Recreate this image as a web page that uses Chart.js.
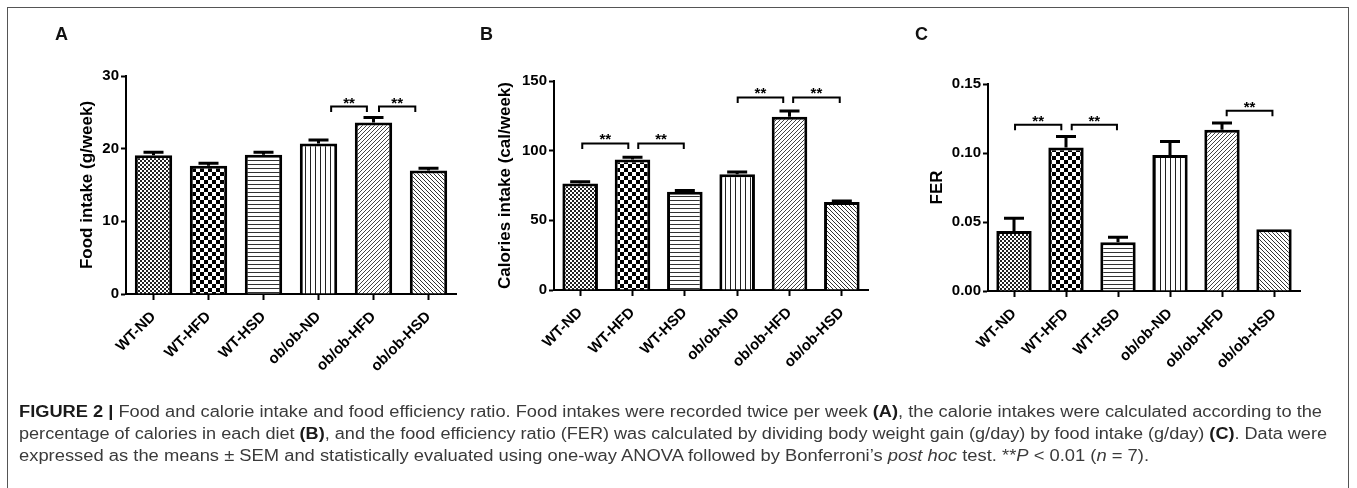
<!DOCTYPE html>
<html><head><meta charset="utf-8">
<script src="https://cdn.jsdelivr.net/npm/chart.js@4.4.1/dist/chart.umd.min.js"></script>
<style>
html,body{margin:0;padding:0;background:#fff;width:1357px;height:488px;overflow:hidden;position:relative;}
#frame{position:absolute;left:7px;top:7px;width:1342px;height:520px;border:1px solid #555;box-sizing:border-box;}
canvas{position:absolute;left:0;top:0;}
.letter{position:absolute;font:bold 18px "Liberation Sans",Arial,sans-serif;color:#111;line-height:18px;}
.cap{position:absolute;left:19px;white-space:nowrap;font:16px "Liberation Sans",Arial,sans-serif;color:#3a3a3a;transform-origin:0 0;line-height:16px;}
.cap b{color:#1a1a1a}
</style></head><body>
<div id="frame"></div>
<canvas id="cA" width="1357" height="488"></canvas>
<canvas id="cB" width="1357" height="488"></canvas>
<canvas id="cC" width="1357" height="488"></canvas>
<div class="letter" style="left:55px;top:25px">A</div>
<div class="letter" style="left:480px;top:25px">B</div>
<div class="letter" style="left:915px;top:25px">C</div>
<div class="cap" id="l1" style="top:404px"><b>FIGURE 2 |</b> Food and calorie intake and food efficiency ratio. Food intakes were recorded twice per week <b>(A)</b>, the calorie intakes were calculated according to the</div>
<div class="cap" id="l2" style="top:426px">percentage of calories in each diet <b>(B)</b>, and the food efficiency ratio (FER) was calculated by dividing body weight gain (g/day) by food intake (g/day) <b>(C)</b>. Data were</div>
<div class="cap" id="l3" style="top:448px">expressed as the means ± SEM and statistically evaluated using one-way ANOVA followed by Bonferroni’s <i>post hoc</i> test. **<i>P</i> &lt; 0.01 (<i>n</i> = 7).</div>
<script>
// ---- data ----
const categories = ['WT-ND', 'WT-HFD', 'WT-HSD', 'ob/ob-ND', 'ob/ob-HFD', 'ob/ob-HSD'];

const foodIntake    = [19.1, 17.65, 19.15, 20.7, 23.6, 17.0];
const foodIntakeSEM = [0.4, 0.35, 0.35, 0.5, 0.7, 0.3];

const calorieIntake    = [76.5, 93.7, 70.5, 83.0, 124.3, 63.1];
const calorieIntakeSEM = [1.2, 1.5, 1.0, 1.6, 4.1, 0.7];

const fer    = [0.0435, 0.104, 0.0353, 0.0985, 0.1168, 0.0448];
const ferSEM = [0.0092, 0.008, 0.0037, 0.0098, 0.0049, 0];

const yTicksA = [0, 10, 20, 30];
const yTicksB = [0, 50, 100, 150];
const yTicksC = [0, 0.05, 0.10, 0.15];
const yLabelsA = ['0', '10', '20', '30'];
const yLabelsB = ['0', '50', '100', '150'];
const yLabelsC = ['0.00', '0.05', '0.10', '0.15'];

// significance brackets: [from category index, to category index, level]
const sigA = [[3.23, 3.88, 25.8], [4.1, 4.76, 25.8]];
const sigB = [[0.04, 0.92, 105.2], [1.11, 1.98, 105.2], [3.01, 3.88, 138.2], [4.07, 4.96, 138.2]];
const sigC = [[0.02, 0.91, 0.1205], [1.11, 1.98, 0.1205], [4.09, 4.97, 0.1306]];

// ---- styling ----
const FONT = '"Liberation Sans", Arial, sans-serif';
Chart.defaults.font.family = FONT;
Chart.defaults.color = '#000';

function tile(w, h, color, draw) {
  const c = document.createElement('canvas');
  c.width = w; c.height = h;
  const g = c.getContext('2d');
  g.fillStyle = '#fff'; g.fillRect(0, 0, w, h);
  g.fillStyle = color;
  draw(g);
  return g.createPattern(c, 'repeat');
}
const patterns = [
  tile(4, 4, '#222', g => { g.fillRect(0, 0, 2, 2); g.fillRect(2, 2, 2, 2); }),
  tile(8, 8, '#000', g => { g.fillRect(0, 0, 4, 4); g.fillRect(4, 4, 4, 4); }),
  tile(1, 4, '#333', g => { g.fillRect(0, 0, 1, 1); }),
  tile(5, 1, '#222', g => { g.fillRect(0, 0, 1, 1); }),
  tile(4, 4, '#444', g => { for (let i = 0; i < 4; i++) g.fillRect(i, 3 - i, 1, 1); }),
  tile(4, 4, '#333', g => { for (let i = 0; i < 4; i++) g.fillRect(i, i, 1, 1); })
];

const errPlugin = {
  id: 'errBars',
  afterDatasetsDraw(chart, args, opts) {
    const { ctx, scales: { y } } = chart;
    const meta = chart.getDatasetMeta(0);
    const vals = chart.data.datasets[0].data;
    ctx.save();
    ctx.strokeStyle = '#000';
    ctx.lineWidth = 3;
    meta.data.forEach((el, i) => {
      const e = opts.errs[i];
      if (!e) return;
      const top = y.getPixelForValue(vals[i] + e);
      ctx.beginPath();
      ctx.moveTo(el.x, el.y);
      ctx.lineTo(el.x, top);
      ctx.moveTo(el.x - 10, top);
      ctx.lineTo(el.x + 10, top);
      ctx.stroke();
    });
    ctx.restore();
  }
};

const sigPlugin = {
  id: 'sigBars',
  afterDraw(chart, args, opts) {
    const { ctx, scales: { x, y } } = chart;
    ctx.save();
    ctx.strokeStyle = '#000';
    ctx.fillStyle = '#000';
    ctx.lineWidth = 2;
    ctx.font = 'bold 15px ' + FONT;
    ctx.textAlign = 'center';
    ctx.textBaseline = 'alphabetic';
    opts.sig.forEach(([a, b, v]) => {
      const xa = x.getPixelForValue(a), xb = x.getPixelForValue(b), yy = y.getPixelForValue(v);
      ctx.beginPath();
      ctx.moveTo(xa, yy + 5.5);
      ctx.lineTo(xa, yy);
      ctx.lineTo(xb, yy);
      ctx.lineTo(xb, yy + 5.5);
      ctx.stroke();
      ctx.fillText('**', (xa + xb) / 2, yy + 1);
    });
    ctx.restore();
  }
};

const XH = 80;
function panel(id, values, errs, yMax, yTicks, yLabels, yTitle, sig, area, titleX) {
  const titleFont = 17;
  const scaleLeft = titleX - (titleFont * 1.2 / 2 + 4);
  const W = area.left - scaleLeft;
  return new Chart(document.getElementById(id), {
    type: 'bar',
    data: {
      labels: categories,
      datasets: [{
        data: values,
        backgroundColor: patterns,
        borderColor: '#000',
        borderWidth: 3,
        borderSkipped: 'start',
        barPercentage: 0.68,
        categoryPercentage: 1
      }]
    },
    options: {
      responsive: false,
      animation: false,
      devicePixelRatio: 1,
      layout: { padding: { left: scaleLeft, right: 1357 - area.right, top: area.top, bottom: 488 - area.bottom - XH } },
      plugins: { legend: { display: false }, tooltip: { enabled: false }, errBars: { errs }, sigBars: { sig } },
      scales: {
        x: {
          grid: { offset: false, drawOnChartArea: false, tickLength: 6, tickWidth: 2, tickColor: '#000' },
          border: { color: '#000', width: 2 },
          ticks: { minRotation: 45, maxRotation: 45, autoSkip: false, font: { size: 15, weight: 'bold' }, color: '#000', padding: 8 },
          afterFit: s => { s.height = XH; }
        },
        y: {
          min: 0, max: yMax,
          afterBuildTicks: s => { s.ticks = yTicks.map(v => ({ value: v })); },
          ticks: { callback: (v, i) => yLabels[i], font: { size: 15, weight: 'bold' }, color: '#000', padding: 2 },
          grid: { drawOnChartArea: false, tickLength: 5, tickWidth: 2, tickColor: '#000' },
          border: { color: '#000', width: 2 },
          title: { display: true, text: yTitle, font: { size: titleFont, weight: 'bold' }, color: '#000', padding: { top: 4, bottom: 4 } },
          afterFit: s => { s.width = W; }
        }
      }
    },
    plugins: [errPlugin, sigPlugin]
  });
}

panel('cA', foodIntake, foodIntakeSEM, 30, yTicksA, yLabelsA, 'Food intake (g/week)', sigA,
      { left: 126, right: 456, top: 76, bottom: 294 }, 87);
panel('cB', calorieIntake, calorieIntakeSEM, 150, yTicksB, yLabelsB, 'Calories intake (cal/week)', sigB,
      { left: 554, right: 868, top: 81, bottom: 290 }, 505.5);
panel('cC', fer, ferSEM, 0.15, yTicksC, yLabelsC, 'FER', sigC,
      { left: 988, right: 1300, top: 84, bottom: 291 }, 937);

// fit caption lines to the widths measured in the reference
const capTargets = { l1: 1303, l2: 1308, l3: 1130 };
function fitCaption() {
  for (const id in capTargets) {
    const el = document.getElementById(id);
    el.style.transform = 'none';
    const w = el.getBoundingClientRect().width;
    el.style.transform = 'scaleX(' + (capTargets[id] / w) + ')';
  }
}
fitCaption();
if (document.fonts) document.fonts.ready.then(fitCaption);
</script>
</body></html>
